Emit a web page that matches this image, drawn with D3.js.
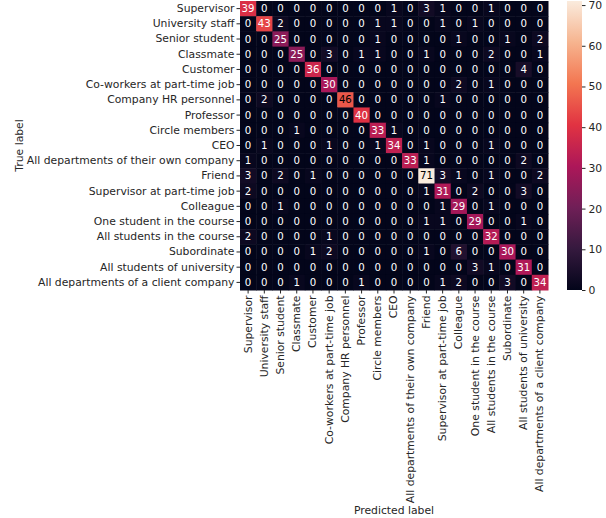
<!DOCTYPE html>
<html>
<head>
<meta charset="utf-8">
<script src="https://cdn.jsdelivr.net/npm/d3@7"></script>
<style>
  body { margin: 0; background: #fff; }
  text { font-family: "DejaVu Sans", sans-serif; }
</style>
</head>
<body>
<div id="vis"></div>
<script>
const labels = [
  "Supervisor", "University staff", "Senior student", "Classmate", "Customer",
  "Co-workers at part-time job", "Company HR personnel", "Professor", "Circle members", "CEO",
  "All departments of their own company", "Friend", "Supervisor at part-time job", "Colleague",
  "One student in the course", "All students in the course", "Subordinate",
  "All students of university", "All departments of a client company"
];

// rows = true label, columns = predicted label
const counts = [
  [39, 0, 0, 0, 0, 0, 0, 0, 0, 1, 0, 3, 1, 0, 0, 1, 0, 0, 0],
  [0, 43, 2, 0, 0, 0, 0, 0, 1, 1, 0, 0, 1, 0, 1, 0, 0, 0, 0],
  [0, 0, 25, 0, 0, 0, 0, 0, 1, 0, 0, 0, 0, 1, 0, 0, 1, 0, 2],
  [0, 0, 0, 25, 0, 3, 0, 1, 1, 0, 0, 1, 0, 0, 0, 2, 0, 0, 1],
  [0, 0, 0, 0, 36, 0, 0, 0, 0, 0, 0, 0, 0, 0, 0, 0, 0, 4, 0],
  [0, 0, 0, 0, 0, 30, 0, 0, 0, 0, 0, 0, 0, 2, 0, 1, 0, 0, 0],
  [0, 2, 0, 0, 0, 0, 46, 0, 0, 0, 0, 0, 1, 0, 0, 0, 0, 0, 0],
  [0, 0, 0, 0, 0, 0, 0, 40, 0, 0, 0, 0, 0, 0, 0, 0, 0, 0, 0],
  [0, 0, 0, 1, 0, 0, 0, 0, 33, 1, 0, 0, 0, 0, 0, 0, 0, 0, 0],
  [0, 1, 0, 0, 0, 1, 0, 0, 1, 34, 0, 1, 0, 0, 0, 1, 0, 0, 0],
  [1, 0, 0, 0, 0, 0, 0, 0, 0, 0, 33, 1, 0, 0, 0, 0, 0, 2, 0],
  [3, 0, 2, 0, 1, 0, 0, 0, 0, 0, 0, 71, 3, 1, 0, 1, 0, 0, 2],
  [2, 0, 0, 0, 0, 0, 0, 0, 0, 0, 0, 1, 31, 0, 2, 0, 0, 3, 0],
  [0, 0, 1, 0, 0, 0, 0, 0, 0, 0, 0, 0, 1, 29, 0, 1, 0, 0, 0],
  [0, 0, 0, 0, 0, 0, 0, 0, 0, 0, 0, 1, 1, 0, 29, 0, 0, 1, 0],
  [2, 0, 0, 0, 0, 1, 0, 0, 0, 0, 0, 0, 0, 0, 0, 32, 0, 0, 0],
  [0, 0, 0, 0, 1, 2, 0, 0, 0, 0, 0, 1, 0, 6, 0, 0, 30, 0, 0],
  [0, 0, 0, 0, 0, 0, 0, 0, 0, 0, 0, 0, 0, 0, 3, 1, 0, 31, 0],
  [0, 0, 0, 1, 0, 0, 0, 1, 0, 0, 0, 0, 1, 2, 0, 0, 3, 0, 34]
];

const colorbarTicks = [0, 10, 20, 30, 40, 50, 60, 70];

// seaborn "rocket" colormap, sampled
const rocketStops = ["#03051a", "#35193e", "#701f57", "#ad1759", "#e13342", "#f37651", "#f6b48f", "#faebdd"];

const width = 606, height = 518;
const plotLeft = 240, plotRight = 548, plotTop = 1, plotBottom = 290;
const textColor = "#262626";
const fontSize = "10.8px";

const svg = d3.select("#vis").append("svg")
  .attr("width", width)
  .attr("height", height);

const x = d3.scaleBand().domain(d3.range(labels.length)).range([plotLeft, plotRight]);
const y = d3.scaleBand().domain(d3.range(labels.length)).range([plotTop, plotBottom]);

const vmax = d3.max(counts.flat());
const color = d3.scaleLinear()
  .domain(rocketStops.map((c, i) => i / (rocketStops.length - 1) * vmax))
  .range(rocketStops)
  .interpolate(d3.interpolateRgb);

function textFor(v) {
  const c = d3.rgb(color(v));
  const lum = 0.2126 * c.r / 255 + 0.7152 * c.g / 255 + 0.0722 * c.b / 255;
  return lum > 0.408 ? "#000" : "#fff";
}

const cells = [];
counts.forEach((row, i) => row.forEach((v, j) => cells.push({ i, j, v })));

svg.append("g").selectAll("rect")
  .data(cells)
  .join("rect")
  .attr("x", d => x(d.j))
  .attr("y", d => y(d.i))
  .attr("width", x.bandwidth() + 0.5)
  .attr("height", y.bandwidth() + 0.5)
  .attr("fill", d => color(d.v));

svg.append("g").selectAll("text")
  .data(cells)
  .join("text")
  .attr("x", d => x(d.j) + x.bandwidth() / 2)
  .attr("y", d => y(d.i) + y.bandwidth() / 2)
  .attr("text-anchor", "middle")
  .attr("dominant-baseline", "central")
  .style("font-size", "10.2px")
  .attr("fill", d => textFor(d.v))
  .text(d => d.v);

// axes
const yAxis = d3.axisLeft(y).tickSize(3.5).tickPadding(2).tickFormat(i => labels[i]);
const xAxis = d3.axisBottom(x).tickSize(3.5).tickPadding(2).tickFormat(i => labels[i]);

const gy = svg.append("g").attr("transform", `translate(${plotLeft},0)`).call(yAxis);
const gx = svg.append("g").attr("transform", `translate(0,${plotBottom})`).call(xAxis);

[gx, gy].forEach(g => {
  g.select(".domain").remove();
  g.selectAll(".tick line").attr("stroke", textColor);
  g.selectAll(".tick text")
    .attr("fill", textColor)
    .style("font-size", fontSize)
    .style("font-family", "DejaVu Sans");
});

gx.selectAll(".tick text")
  .attr("transform", "rotate(-90)")
  .attr("text-anchor", "end")
  .attr("x", -5.5)
  .attr("y", 0)
  .attr("dy", "0.32em");

svg.append("text")
  .attr("x", (plotLeft + plotRight) / 2)
  .attr("y", 514)
  .attr("text-anchor", "middle")
  .attr("fill", textColor)
  .style("font-size", fontSize)
  .text("Predicted label");

svg.append("text")
  .attr("transform", `translate(23,${(plotTop + plotBottom) / 2}) rotate(-90)`)
  .attr("text-anchor", "middle")
  .attr("fill", textColor)
  .style("font-size", fontSize)
  .text("True label");

// colorbar
const cbX = 567, cbW = 15;
const cbScale = d3.scaleLinear().domain([0, vmax]).range([plotBottom, plotTop]);

const grad = svg.append("defs").append("linearGradient")
  .attr("id", "cbgrad")
  .attr("x1", 0).attr("y1", 1).attr("x2", 0).attr("y2", 0);
grad.selectAll("stop")
  .data(rocketStops)
  .join("stop")
  .attr("offset", (d, i) => i / (rocketStops.length - 1))
  .attr("stop-color", d => d);

svg.append("rect")
  .attr("x", cbX)
  .attr("y", plotTop)
  .attr("width", cbW)
  .attr("height", plotBottom - plotTop)
  .attr("fill", "url(#cbgrad)");

const cbAxis = d3.axisRight(cbScale).tickValues(colorbarTicks).tickSize(3.5).tickPadding(3);
const gc = svg.append("g").attr("transform", `translate(${cbX + cbW},0)`).call(cbAxis);
gc.select(".domain").remove();
gc.selectAll(".tick line").attr("stroke", textColor);
gc.selectAll(".tick text")
  .attr("fill", textColor)
  .style("font-size", fontSize)
  .style("font-family", "DejaVu Sans");
</script>
</body>
</html>
